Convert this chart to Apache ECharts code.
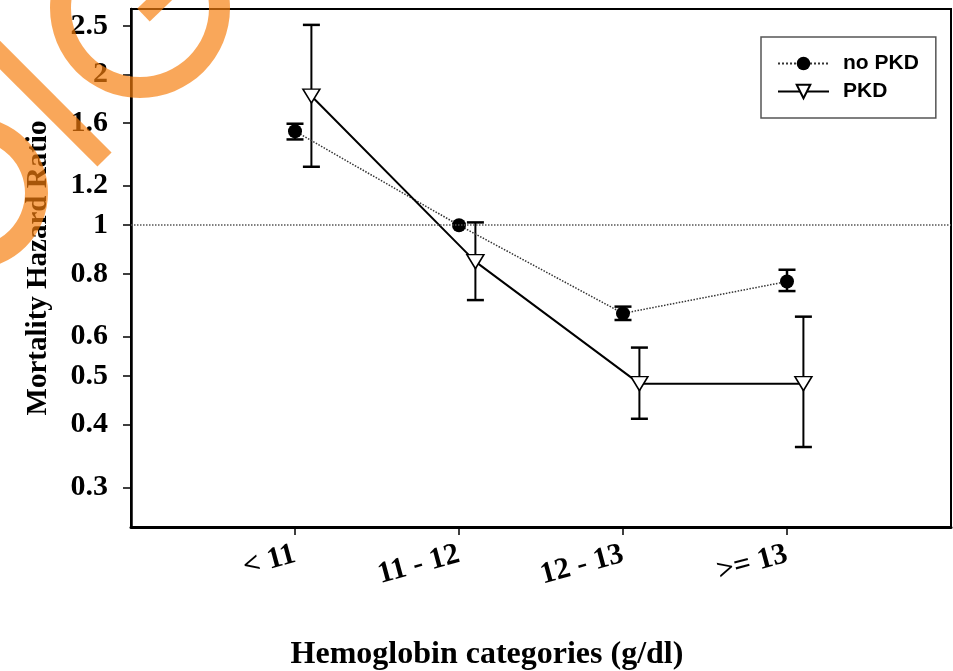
<!DOCTYPE html>
<html>
<head>
<meta charset="utf-8">
<script src="https://cdn.jsdelivr.net/npm/echarts@6/dist/echarts.min.js"></script>
<style>html,body{margin:0;padding:0;background:#fff;}#chart{width:953px;height:671px;}</style>
</head>
<body>
<div id="chart"></div>
<script>
// ---- data ----
const categories = ['< 11', '11 - 12', '12 - 13', '>= 13'];
const yTickLabels = [0.3, 0.4, 0.5, 0.6, 0.8, 1, 1.2, 1.6, 2, 2.5];
const noPkdHR   = [1.54, 1.0, 0.667, 0.772];
const noPkdLow  = [1.483, null, 0.647, 0.739];
const noPkdHigh = [1.594, null, 0.688, 0.815];
const pkdHR   = [1.81, 0.846, 0.483, 0.483];
const pkdLow  = [1.308, 0.709, 0.411, 0.361];
const pkdHigh = [2.51, 1.013, 0.57, 0.657];
const referenceHR = 1;

// ---- layout / style constants ----
const PKD_DODGE = 0.1;
const SERIF = '"Liberation Serif", "Times New Roman", serif';
const SANS = '"Liberation Sans", Arial, sans-serif';
const ORANGE = 'rgb(246,125,12)';

function errData(lo, hi, dodge) {
  const out = [];
  lo.forEach((l, i) => { if (l != null && hi[i] != null) out.push([i + dodge, l, hi[i]]); });
  return out;
}
function errSeries(data, capW, stemW, capLw) {
  return {
    type: 'custom', silent: true, z: 1,
    data: data,
    encode: { x: 0, y: [1, 2] },
    renderItem: function (params, api) {
      const x = api.value(0);
      const top = api.coord([x, api.value(2)]);
      const bot = api.coord([x, api.value(1)]);
      const st = { stroke: '#000', lineWidth: stemW };
      const cs = { stroke: '#000', lineWidth: capLw };
      return { type: 'group', children: [
        { type: 'line', shape: { x1: top[0], y1: top[1], x2: bot[0], y2: bot[1] }, style: st },
        { type: 'line', shape: { x1: top[0] - capW / 2, y1: top[1], x2: top[0] + capW / 2, y2: top[1] }, style: cs },
        { type: 'line', shape: { x1: bot[0] - capW / 2, y1: bot[1], x2: bot[0] + capW / 2, y2: bot[1] }, style: cs }
      ]};
    }
  };
}

const chart = echarts.init(document.getElementById('chart'), null, { renderer: 'canvas' });
chart.setOption({
  animation: false,
  backgroundColor: '#fff',
  grid: { left: 131, right: 2, top: 9, bottom: 144, show: true, borderColor: '#000', borderWidth: 2, containLabel: false, outerBoundsMode: 'none' },
  legend: {
    data: ['no PKD', 'PKD'],
    orient: 'vertical', left: 761, top: 37,
    padding: [16, 17, 16, 16], itemGap: 7,
    itemWidth: 51, itemHeight: 17,
    borderColor: '#555', borderWidth: 1.5,
    textStyle: { fontFamily: SANS, fontWeight: 'bold', fontSize: 21, color: '#000', lineHeight: 20, padding: [0, 0, 0, 9] }
  },
  xAxis: {
    type: 'value', min: -1, max: 4,
    axisLine: { show: true, onZero: false, lineStyle: { color: '#000', width: 3 } },
    axisTick: { show: true, customValues: [0, 1, 2, 3], length: 8, lineStyle: { color: '#000', width: 1.5 } },
    axisLabel: {
      customValues: [0, 1, 2, 3],
      formatter: v => categories[Math.round(v)],
      rotate: 15, margin: 27,
      fontFamily: SERIF, fontWeight: 'bold', fontSize: 30, color: '#000'
    },
    splitLine: { show: false },
    name: 'Hemoglobin categories (g/dl)', nameLocation: 'middle', nameGap: 112,
    nameTextStyle: { fontFamily: SERIF, fontWeight: 'bold', fontSize: 32, color: '#000', padding: [0, 108, 0, 0] }
  },
  yAxis: {
    type: 'log', logBase: 10, min: 0.25, max: 2.7,
    axisLine: { show: true, onZero: false, lineStyle: { color: '#000', width: 2.5 } },
    axisTick: { show: true, customValues: yTickLabels, length: 8, lineStyle: { color: '#000', width: 1.5 } },
    axisLabel: {
      customValues: yTickLabels,
      formatter: v => String(parseFloat(Number(v).toPrecision(3))),
      margin: 23,
      fontFamily: SERIF, fontWeight: 'bold', fontSize: 30, color: '#000'
    },
    splitLine: { show: false },
    minorTick: { show: false },
    name: 'Mortality Hazard Ratio', nameLocation: 'middle', nameGap: 78,
    nameTextStyle: { fontFamily: SERIF, fontWeight: 'bold', fontSize: 29, color: '#000' }
  },
  series: [
    errSeries(errData(noPkdLow, noPkdHigh, 0), 17, 2.5, 2.5),
    errSeries(errData(pkdLow, pkdHigh, PKD_DODGE), 17, 2, 2.5),
    {
      name: 'no PKD', type: 'line', z: 3,
      data: noPkdHR.map((v, i) => [i, v]),
      symbol: 'circle', symbolSize: 14,
      itemStyle: { color: '#000' },
      lineStyle: { color: '#333', width: 1.5, type: 'dotted' },
      markLine: {
        silent: true, symbol: ['none', 'none'],
        label: { show: false },
        lineStyle: { type: 'dotted', color: '#555', width: 1.5 },
        data: [{ yAxis: referenceHR }]
      }
    },
    {
      name: 'PKD', type: 'line', z: 4,
      data: pkdHR.map((v, i) => [i + PKD_DODGE, v]),
      symbol: 'triangle', symbolRotate: 180, symbolSize: [17, 14],
      itemStyle: { color: '#fff', borderColor: '#000', borderWidth: 1.5 },
      lineStyle: { color: '#000', width: 2 }
    }
  ],
  graphic: [
    { type: 'ring', z: 100, silent: true, shape: { cx: 140, cy: 8, r: 90, r0: 69 }, style: { fill: ORANGE, opacity: 0.68 } },
    { type: 'line', z: 100, silent: true, shape: { x1: 143.5, y1: 15, x2: 178, y2: -18 }, style: { stroke: ORANGE, lineWidth: 18, opacity: 0.68 } },
    { type: 'line', z: 100, silent: true, shape: { x1: -30, y1: 25, x2: 104.5, y2: 159.5 }, style: { stroke: ORANGE, lineWidth: 20, opacity: 0.68 } },
    { type: 'ring', z: 100, silent: true, shape: { cx: -28, cy: 193, r: 76, r0: 53 }, style: { fill: ORANGE, opacity: 0.68 } }
  ]
});
</script>
</body>
</html>
